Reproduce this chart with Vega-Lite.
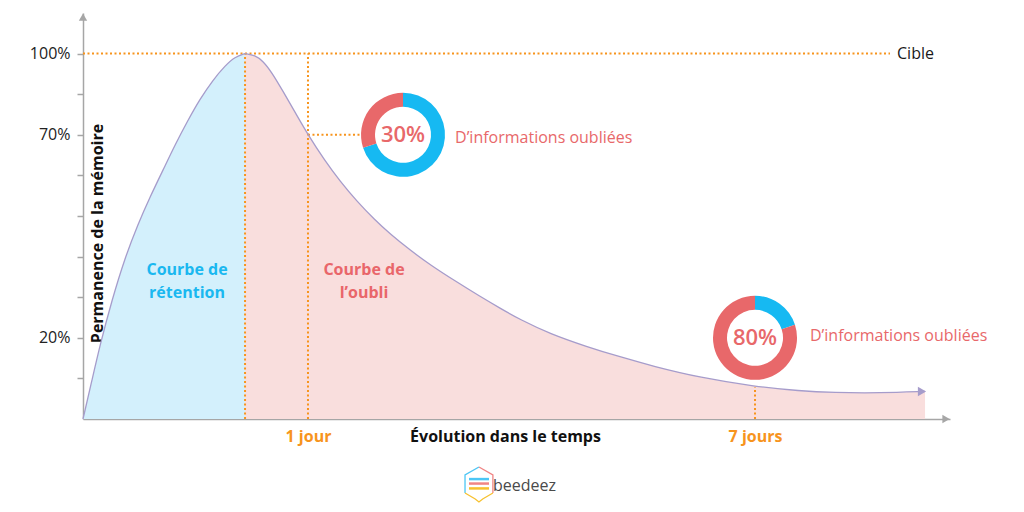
{
  "$schema": "https://vega.github.io/schema/vega-lite/v6.json",
  "width": 867,
  "height": 406,
  "autosize": {"type": "none"},
  "padding": {"left": 83, "top": 13, "right": 74, "bottom": 93},
  "background": "white",
  "config": {"view": {"stroke": null}, "font": "Open Sans"},
  "datasets": {
    "courbe": [
      {"x": 0, "y": 0, "phase": "rétention"},
      {"x": 1.04, "y": 0.96, "phase": "rétention"},
      {"x": 1.96, "y": 1.82, "phase": "rétention"},
      {"x": 3.34, "y": 2.93, "phase": "rétention"},
      {"x": 4.84, "y": 3.97, "phase": "rétention"},
      {"x": 6.34, "y": 4.8, "phase": "rétention"},
      {"x": 7.73, "y": 5.47, "phase": "rétention"},
      {"x": 9.23, "y": 6.13, "phase": "rétention"},
      {"x": 10.61, "y": 6.75, "phase": "rétention"},
      {"x": 12.11, "y": 7.36, "phase": "rétention"},
      {"x": 13.49, "y": 7.88, "phase": "rétention"},
      {"x": 14.99, "y": 8.35, "phase": "rétention"},
      {"x": 16.38, "y": 8.7, "phase": "rétention"},
      {"x": 17.53, "y": 8.92, "phase": "rétention"},
      {"x": 18.69, "y": 9.0, "phase": "rétention"},
      {"x": 18.69, "y": 9.0, "phase": "oubli"},
      {"x": 19.84, "y": 8.96, "phase": "oubli"},
      {"x": 20.76, "y": 8.82, "phase": "oubli"},
      {"x": 21.8, "y": 8.53, "phase": "oubli"},
      {"x": 23.07, "y": 8.07, "phase": "oubli"},
      {"x": 24.45, "y": 7.56, "phase": "oubli"},
      {"x": 25.95, "y": 7.0, "phase": "oubli"},
      {"x": 27.91, "y": 6.36, "phase": "oubli"},
      {"x": 29.64, "y": 5.86, "phase": "oubli"},
      {"x": 31.6, "y": 5.36, "phase": "oubli"},
      {"x": 33.68, "y": 4.9, "phase": "oubli"},
      {"x": 35.41, "y": 4.56, "phase": "oubli"},
      {"x": 37.72, "y": 4.16, "phase": "oubli"},
      {"x": 40.02, "y": 3.8, "phase": "oubli"},
      {"x": 42.91, "y": 3.4, "phase": "oubli"},
      {"x": 45.79, "y": 3.02, "phase": "oubli"},
      {"x": 48.1, "y": 2.73, "phase": "oubli"},
      {"x": 50.4, "y": 2.45, "phase": "oubli"},
      {"x": 53.86, "y": 2.1, "phase": "oubli"},
      {"x": 58.13, "y": 1.78, "phase": "oubli"},
      {"x": 61.94, "y": 1.53, "phase": "oubli"},
      {"x": 65.74, "y": 1.3, "phase": "oubli"},
      {"x": 71.16, "y": 1.02, "phase": "oubli"},
      {"x": 77.51, "y": 0.8, "phase": "oubli"},
      {"x": 82.7, "y": 0.69, "phase": "oubli"},
      {"x": 86.51, "y": 0.65, "phase": "oubli"},
      {"x": 91.93, "y": 0.64, "phase": "oubli"},
      {"x": 97.12, "y": 0.68, "phase": "oubli"}
    ]
  },
  "encoding": {
    "x": {
      "field": "x", "type": "quantitative",
      "scale": {"domain": [0, 100], "nice": false, "zero": false},
      "axis": {
        "values": [25.95, 77.51],
        "labelExpr": "datum.value < 50 ? '1 jour' : '7 jours'",
        "title": "Évolution dans le temps",
        "ticks": false, "tickSize": 0, "grid": false,
        "labelPadding": 17, "labelBaseline": "middle",
        "labelFont": "Open Sans", "labelFontWeight": "bold", "labelFontSize": 16, "labelColor": "#f7941d",
        "labelOverlap": false, "labelFlush": false,
        "titleX": 422, "titleY": 17, "titleBaseline": "middle", "titleAlign": "center",
        "titleFont": "Open Sans", "titleFontSize": 16, "titleFontWeight": "bold", "titleColor": "#111111",
        "domainColor": "#a6a6a6", "domainWidth": 1.5
      }
    },
    "y": {
      "field": "y", "type": "quantitative", "stack": null,
      "scale": {"domain": [0, 10], "nice": false, "zero": false},
      "axis": {
        "values": [1, 2, 3, 4, 5, 6, 7, 8, 9],
        "labelExpr": "datum.value == 9 ? '100%' : datum.value == 7 ? '70%' : datum.value == 2 ? '20%' : ''",
        "tickSize": 6, "tickColor": "#a6a6a6", "tickWidth": 1.5, "grid": false,
        "domainColor": "#a6a6a6", "domainWidth": 1.5,
        "labelPadding": 7, "labelFont": "Open Sans", "labelFontSize": 16, "labelColor": "#222222",
        "title": "Permanence de la mémoire",
        "titleX": 14, "titleY": 220, "titleAngle": -90, "titleAlign": "center", "titleBaseline": "middle",
        "titleFont": "Open Sans", "titleFontSize": 16, "titleFontWeight": "bold", "titleColor": "#111111"
      }
    }
  },
  "layer": [
    {
      "data": {"name": "courbe"},
      "mark": {"type": "area", "interpolate": "basis", "opacity": 1},
      "encoding": {
        "color": {"field": "phase", "type": "nominal", "legend": null,
          "scale": {"domain": ["rétention", "oubli", "retenu", "oublié", "logo-bleu", "logo-rouge", "logo-jaune"],
                    "range": ["#d3f0fc", "#f9dedd", "#16b9f2", "#e8686a", "#4cc6f5", "#f08585", "#f7c12f"]}}
      }
    },
    {
      "data": {"values": [
        {"x": 0, "x2": 93.08, "y": 9, "y2": 9},
        {"x": 18.69, "x2": 18.69, "y": 0, "y2": 9},
        {"x": 25.95, "x2": 25.95, "y": 0, "y2": 9},
        {"x": 25.95, "x2": 31.95, "y": 7, "y2": 7},
        {"x": 77.51, "x2": 77.51, "y": 0, "y2": 0.79}
      ]},
      "mark": {"type": "rule", "color": "#f7941d", "strokeWidth": 2, "strokeDash": [2, 2.5]},
      "encoding": {"x2": {"field": "x2"}, "y2": {"field": "y2"}}
    },
    {
      "data": {"name": "courbe"},
      "mark": {"type": "line", "interpolate": "basis", "color": "#a69ccb", "strokeWidth": 1.3},
      "encoding": {"detail": {"field": "phase", "type": "nominal"}}
    },
    {
      "data": {"values": [{"x": 96.77, "y": 0.68}]},
      "mark": {"type": "point", "shape": "triangle-right", "filled": true, "opacity": 1, "color": "#a69ccb", "size": 90},
      "encoding": {}
    },
    {
      "data": {"values": [{"x": 99.54, "y": 0}]},
      "mark": {"type": "point", "shape": "triangle-right", "filled": true, "opacity": 1, "color": "#a6a6a6", "size": 70},
      "encoding": {}
    },
    {
      "data": {"values": [{"x": 0, "y": 9.9}]},
      "mark": {"type": "point", "shape": "triangle-up", "filled": true, "opacity": 1, "color": "#a6a6a6", "size": 70},
      "encoding": {}
    },
    {
      "data": {"values": [
        {"x": 36.91, "y": 7, "part": "retenu", "a0": 0, "a1": 70},
        {"x": 36.91, "y": 7, "part": "oublié", "a0": 70, "a1": 100},
        {"x": 77.51, "y": 2, "part": "retenu", "a0": 0, "a1": 20},
        {"x": 77.51, "y": 2, "part": "oublié", "a0": 20, "a1": 100}
      ]},
      "mark": {"type": "arc", "radius": 42, "radius2": 28},
      "encoding": {
        "theta": {"field": "a0", "type": "quantitative", "stack": null, "scale": {"domain": [0, 100], "range": [0, 6.283185307]}},
        "theta2": {"field": "a1"},
        "color": {"field": "part", "type": "nominal", "legend": null,
          "scale": {"domain": ["rétention", "oubli", "retenu", "oublié", "logo-bleu", "logo-rouge", "logo-jaune"],
                    "range": ["#d3f0fc", "#f9dedd", "#16b9f2", "#e8686a", "#4cc6f5", "#f08585", "#f7c12f"]}}
      }
    },
    {
      "data": {"values": [{"x": 93.89, "y": 9, "label": "Cible"}]},
      "mark": {"type": "text", "align": "left", "baseline": "middle", "font": "Open Sans", "fontSize": 16, "color": "#1a1a1a"},
      "encoding": {"text": {"field": "label"}}
    },
    {
      "data": {"values": [
        {"x": 42.91, "y": 6.92, "label": "D’informations oubliées"},
        {"x": 83.85, "y": 2.05, "label": "D’informations oubliées"}
      ]},
      "mark": {"type": "text", "align": "left", "baseline": "middle", "font": "Open Sans", "fontSize": 16, "color": "#e8686a"},
      "encoding": {"text": {"field": "label"}}
    },
    {
      "data": {"values": [
        {"x": 36.91, "y": 7, "label": "30%"},
        {"x": 77.51, "y": 2, "label": "80%"}
      ]},
      "mark": {"type": "text", "align": "center", "baseline": "middle", "font": "Open Sans", "fontSize": 22, "fontWeight": 600, "color": "#e8686a"},
      "encoding": {"text": {"field": "label"}}
    },
    {
      "data": {"values": [
        {"x": 12.0, "y": 3.67, "label": "Courbe de"},
        {"x": 12.0, "y": 3.11, "label": "rétention"}
      ]},
      "mark": {"type": "text", "align": "center", "baseline": "middle", "font": "Open Sans", "fontSize": 16, "fontWeight": "bold", "color": "#1ab8f0"},
      "encoding": {"text": {"field": "label"}}
    },
    {
      "data": {"values": [
        {"x": 32.41, "y": 3.67, "label": "Courbe de"},
        {"x": 32.41, "y": 3.11, "label": "l’oubli"}
      ]},
      "mark": {"type": "text", "align": "center", "baseline": "middle", "font": "Open Sans", "fontSize": 16, "fontWeight": "bold", "color": "#e9666a"},
      "encoding": {"text": {"field": "label"}}
    },
    {
      "data": {"values": [
        {"x": 45.67, "y": -1.6, "seg": "gauche", "c": "logo-bleu"},
        {"x": 45.67, "y": -1.6, "seg": "droite", "c": "logo-rouge"},
        {"x": 45.67, "y": -1.6, "seg": "bas", "c": "logo-jaune"}
      ]},
      "mark": {"type": "point", "filled": false, "opacity": 1, "size": 1156, "strokeWidth": 1.3},
      "encoding": {
        "shape": {"field": "seg", "type": "nominal", "legend": null,
          "scale": {"domain": ["gauche", "droite", "bas"],
                    "range": ["M0,-1L-0.82,-0.53L-0.82,0.53", "M0,-1L0.82,-0.53L0.82,0.53", "M-0.82,0.53L-0.22,0.88L0,1.06L0.22,0.88L0.82,0.53"]}},
        "color": {"field": "c", "type": "nominal", "legend": null,
          "scale": {"domain": ["rétention", "oubli", "retenu", "oublié", "logo-bleu", "logo-rouge", "logo-jaune"],
                    "range": ["#d3f0fc", "#f9dedd", "#16b9f2", "#e8686a", "#4cc6f5", "#f08585", "#f7c12f"]}}
      }
    },
    {
      "data": {"values": [
        {"x": 44.52, "x2": 46.83, "y": -1.48, "c": "logo-bleu"},
        {"x": 44.52, "x2": 46.83, "y": -1.59, "c": "logo-rouge"},
        {"x": 44.52, "x2": 46.83, "y": -1.71, "c": "logo-jaune"}
      ]},
      "mark": {"type": "rule", "strokeWidth": 2.5},
      "encoding": {
        "x2": {"field": "x2"},
        "color": {"field": "c", "type": "nominal", "legend": null,
          "scale": {"domain": ["rétention", "oubli", "retenu", "oublié", "logo-bleu", "logo-rouge", "logo-jaune"],
                    "range": ["#d3f0fc", "#f9dedd", "#16b9f2", "#e8686a", "#4cc6f5", "#f08585", "#f7c12f"]}}
      }
    },
    {
      "data": {"values": [{"x": 47.29, "y": -1.77, "label": "beedeez"}]},
      "mark": {"type": "text", "align": "left", "baseline": "alphabetic", "font": "Open Sans", "fontSize": 16, "color": "#4a4a4a"},
      "encoding": {"text": {"field": "label"}}
    }
  ]
}
